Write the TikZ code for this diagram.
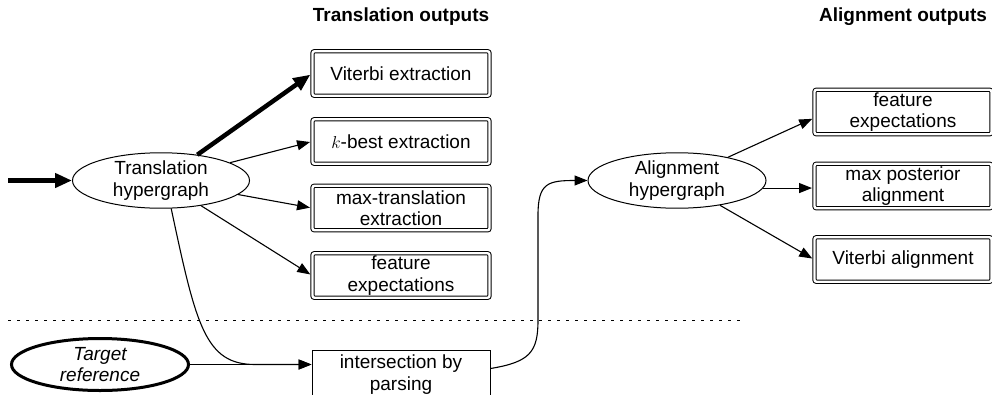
\documentclass[tikz,border=0pt]{standalone}
\usepackage{fontspec}
\setmainfont{Liberation Sans}
\usetikzlibrary{arrows.meta,shapes.geometric}
\begin{document}
\begin{tikzpicture}[x=1pt,y=-1pt,
  every node/.style={font=\fontsize{19}{21.5}\selectfont, align=center},
  outbox/.style={draw, line width=1pt, double=white, double distance=2.4pt, rounded corners=2pt, minimum width=177pt, minimum height=44.5pt, inner sep=0pt},
  hyp/.style={draw, ellipse, line width=1pt, inner sep=0pt, minimum width=177pt, minimum height=55pt},
  conn/.style={line width=1.1pt, -{Triangle[length=13pt,width=10pt]}},
  bigconn/.style={line width=4.5pt, -{Triangle[length=17pt,width=14pt]}},
  titletext/.style={font=\fontsize{19}{21}\selectfont\bfseries}
]
\useasboundingbox (0,0) rectangle (992,394);
\clip (0,0) rectangle (992,394);

\node[titletext] (t1) at (401,17) {Translation outputs};
\node[titletext] (t2) at (903,17) {Alignment outputs};

\node[hyp] (th) at (161,180.5) {Translation\\hypergraph};
\node[outbox] (v) at (401,73.5) {Viterbi extraction};
\node[outbox] (k) at (401,141.5) {$k$-best extraction};
\node[outbox] (mt) at (401,208) {max-translation\\extraction};
\node[outbox] (fe) at (401,275.5) {feature\\expectations};

\node[hyp, line width=3pt, minimum width=177pt, minimum height=52pt, font=\fontsize{19}{21.5}\selectfont\itshape] (tr) at (100,364.5) {Target\\reference};
\node[draw, line width=1pt, minimum width=178pt, minimum height=49pt, inner sep=0pt] (ib) at (401,374.5) {intersection by\\parsing};

\node[hyp, minimum width=178pt] (ah) at (677,180.5) {Alignment\\hypergraph};
\node[outbox] (rfe) at (903,112) {feature\\expectations};
\node[outbox] (mp) at (903,186) {max posterior\\alignment};
\node[outbox] (va) at (903,259.5) {Viterbi alignment};

\coordinate (in) at (8,180.5);
\coordinate (dl) at (8,320);
\coordinate (dr) at (742,320);
\coordinate (ij) at (tr.east -| ib.west);

\draw[bigconn] (in) -- (th);
\draw[bigconn, shorten >=2pt] (th) -- (v.west);
\draw[conn, shorten >=2pt] (th) -- (k.west);
\draw[conn, shorten >=2pt] (th) -- (mt.west);
\draw[conn, shorten >=2pt] (th) -- (fe.west);

\draw[conn] (tr.east) -- (ij);
\draw[conn] (th.-70) .. controls (196,325) and (205,364.5) .. (255,364.5) -- (ij);

\draw[conn] ([yshift=6pt]ib.east) .. controls (530,362) and (538,352) .. (538,320) -- (538,215) .. controls (538,183) and (548,180.5) .. (ah.west);

\draw[conn, shorten >=2pt] (ah) -- ([yshift=-6pt]rfe.west);
\draw[conn, shorten >=2pt] (ah.-5) -- (ah.-5 -| mp.west);
\draw[conn, shorten >=2pt] (ah) -- (va.west);

\draw[line width=1pt, dash pattern=on 3pt off 6pt] (dl) -- (dr);
\end{tikzpicture}
\end{document}
